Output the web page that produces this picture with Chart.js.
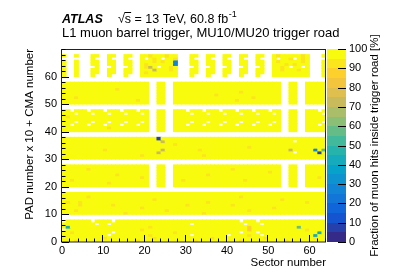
<!DOCTYPE html>
<html lang="en">
<head>
<meta charset="UTF-8">
<title>L1 muon barrel trigger road</title>
<script src="https://cdn.jsdelivr.net/npm/chart.js"></script>
<style>
  html, body { margin: 0; padding: 0; background: #fff; }
</style>
</head>
<body>
<canvas id="roadChart" width="407" height="276"></canvas>
<script>
// x = sector logic number, y = PAD number x 10 + CMA number
const sectorCount = 64;
const xTicks = [0, 10, 20, 30, 40, 50, 60];
const yTicks = [0, 10, 20, 30, 40, 50, 60];
const zTicks = [0, 10, 20, 30, 40, 50, 60, 70, 80, 90, 100];

// fraction (%), one code per sector, '.' = no CMA
const valueCodes = { '9': 98, '8': 93, '7': 88, '6': 83, 'k': 72, 'g': 57, 'c': 42, 'b': 28, 'd': 8 };

// each array: CMA 0 .. 7, sectors in groups of 8
const pad0 = [
  '99989999 99999999 99899999 99999999 89999999 99989999 99999989 99999999',
  '99999999 99899999 99999989 99999999 99998999 99999999 98999999 99999899',
  '99999999 999.9999 99999899 9999999. 99999999 .9999899 .9999999 99999c99',
  '99899999 9999.999 99999999 99989999 99999999 999.999. 99999999 999999c9',
  '.9999999 99999999 99989999 99999999 99999999 99999799 99999999 99989999',
  '9c999999 99999999 99999899 99999999 99999999 99999799 99999999 9g999999',
  '99999999 .99.9999 99999999 9999999. 99999999 9999.999 .9999999 99999999',
  '.999999. 9999.999 99999999 99999999 99999999 999.999. 99999999 99999999'
];
const pad1 = [
  '99999999 99999998 99999999 99999999 99899999 99999999 99999999 99999999',
  '99989999 99999999 99999999 98999999 99999999 99999899 99999999 99999999',
  '99999999 99999999 99989999 99999999 99999999 99999999 99989999 99999999',
  '99998999 99998999 99999999 99999989 99999999 98999999 99999999 99999999',
  '98998999 99999999 99999999 99999999 99989999 99999999 99999999 99989999',
  '99999999 99999999 99999989 99999999 99999999 99999999 99999899 99999999',
  '99999989 99999999 99999999 99999999 99999999 99989999 99999999 99999999',
  '99999999 99999999 99999999 99999999 99999999 99999999 99999999 99999999'
];
const pad2 = [
  '99999999 99999999 99999..9 9..99999 99999999 99999999 99999..9 9..99999',
  '99999999 99989999 99999..9 9..99999 99999999 99999999 99999..9 9..99999',
  '99899999 99999999 99999..9 9..99899 99999999 99998999 99999..9 9..99999',
  '99999999 99999999 99989..9 9..99999 99999999 99999999 99999..9 9..99989',
  '99999999 99999899 99999..9 9..99999 99989999 99999999 99999..9 9..99999',
  '99999999 99999999 99999..9 9..99999 99999999 99999999 99899..9 9..99999',
  '99999989 99999999 99999..9 9..99999 99999999 98999999 99999..9 9..99999',
  '99999999 99999999 99999..9 9..99999 99999999 99999999 99999..9 9..99999'
];
const pad3 = [
  '99999999 99999999 99999999 99999999 99999999 99999999 99999999 99999999',
  '99999999 99999999 99989999 99999999 99899999 99999999 99999999 99999999',
  '99999999 99999999 9999999k 99999999 99999999 99999999 99999999 .99999d9',
  '99999999 99899999 99999999 k9999999 98999999 99999999 9999999k 99999b9g',
  '99999999 99999999 99999999 99999999 99999999 99999899 99999999 99999999',
  '99999999 99999999 99999999 99989999 99999999 99999999 99999999 99999999',
  '99999999 99999999 99999999 k9999999 99999999 99999999 99999999 .9999999',
  '99999999 99999999 9999999d 99999999 99999999 99999999 99999999 99999999'
];
const pad4 = [
  '99999999 99999999 99999..9 9..99999 99999999 99999999 99999..9 9..99999',
  '99999999 99989999 99999..9 9..99999 99999999 99999999 99999..9 9..99999',
  '99.999.9 99.999.9 99.99..9 9..999.9 99.999.9 99.999.9 99.99..9 9..999.9',
  '999.999. 999.999. 999.9..9 9..9999. 999.999. 999.999. 999.9..9 9..9999.',
  '99999999 99999999 99999..9 9..99999 99999999 99999999 99999..9 9..99999',
  '98999999 99999999 99999..9 9..99999 99999999 99999999 99999..9 9..99999',
  '999.999. 999.999. 999.9..9 9..9999. 999.999. 999.999. 999.9..9 9..9999.',
  '99.999.9 99.999.9 99.99..9 9..999.9 99.999.9 99.999.9 99.99..9 9..999.9'
];
const pad5 = [
  '99999999 99999999 99999..9 9..99999 99999999 99999999 99999..9 9..99999',
  '99999999 99999999 99899..9 9..99999 99999999 99899999 99999..9 9..99999',
  '99989999 99999999 99999..9 9..99999 99999999 99999989 99999..9 9..99999',
  '99999999 99999999 99999..9 9..99999 99999899 99999999 99999..9 9..99999',
  '99999999 99999999 99999..9 9..99999 99999999 99989999 99999..9 9..99999',
  '99999999 99999899 99999..9 9..99999 99999999 99999999 99999..9 9..99999',
  '99999999 99999999 99999..9 9..99999 99999999 99999999 99999..9 9..99999',
  '99999999 99999999 99999..9 9..99999 99999999 99999999 99999..9 9..99999'
];
const pad6 = [
  '9..9...9 ...9...9 ...99999 9999...9 ...9...9 ...9...9 ...99999 9999...9',
  '9..9...9 9..99..9 9..98999 9999...9 9..99..9 9..99..9 9..99999 9999...9',
  '9..9...9 9..99..9 9..999k9 9989...9 9..99..9 9..99..9 9..99899 9899...9',
  '9..9.... 9...9... 9..98k9. 9989.... 9...9... 9...9... 9..9989. 99.9...9',
  '9..9...9 9..99..9 9..98999 999b...9 9..99..9 9..99..9 9..99989 8999...9',
  '9..9...9 9..99..9 9..99989 899b...9 9..99..9 9..99..9 9..98999 9989...9',
  '.......9 ...9...9 ...9.989 .998...9 ...9...9 ...9...9 ...9.998 .989....',
  '9..9...9 9..99..9 9..99899 9899...9 9..99..9 9..99..9 9..98999 9989...9'
];
const pads = [pad0, pad1, pad2, pad3, pad4, pad5, pad6];

// ROOT "bird" palette, 20 contours
const birdStops = [0.0, 0.125, 0.25, 0.375, 0.5, 0.625, 0.75, 0.875, 1.0];
const birdR = [0.2082, 0.0592, 0.0780, 0.0232, 0.1802, 0.5301, 0.8186, 0.9956, 0.9764];
const birdG = [0.1664, 0.3599, 0.5041, 0.6419, 0.7178, 0.7492, 0.7328, 0.7862, 0.9832];
const birdB = [0.5293, 0.8684, 0.8385, 0.7914, 0.6425, 0.4662, 0.3499, 0.1968, 0.0539];
const nContours = 20;

function birdColor(t) {
  let i = 0;
  while (i < birdStops.length - 2 && t > birdStops[i + 1]) i++;
  const f = (t - birdStops[i]) / (birdStops[i + 1] - birdStops[i]);
  const mix = arr => Math.round(255 * (arr[i] + f * (arr[i + 1] - arr[i])));
  return `rgb(${mix(birdR)}, ${mix(birdG)}, ${mix(birdB)})`;
}
function cellColor(v) {
  const bin = Math.min(nContours - 1, Math.floor(v / (100 / nContours)));
  return birdColor(bin / (nContours - 1));
}

const cells = [];
pads.forEach((pad, p) => {
  pad.forEach((line, cma) => {
    const codes = line.replace(/ /g, '');
    for (let s = 0; s < sectorCount; s++) {
      if (codes[s] === '.') continue;
      const row = p * 10 + cma;
      cells.push({ x: s + 0.5, y: [row, row + 1], v: valueCodes[codes[s]] });
    }
  });
});

const fontFamily = '"Liberation Sans", Arial, Helvetica, sans-serif';

// frame, inward ticks, colour bar and header text, ROOT style
const atlasDecor = {
  id: 'atlasDecor',
  afterDraw(chart) {
    const { ctx, chartArea: a, scales } = chart;
    const xs = scales.x, ys = scales.y, zs = scales.z;
    ctx.save();

    // colour bar
    const cbLeft = a.right + 1, cbRight = a.right + 20;
    for (let i = 0; i < nContours; i++) {
      const y1 = zs.getPixelForValue((i + 1) * 100 / nContours);
      const y2 = zs.getPixelForValue(i * 100 / nContours);
      ctx.fillStyle = birdColor(i / (nContours - 1));
      ctx.fillRect(cbLeft, Math.round(y1), cbRight - cbLeft, Math.round(y2) - Math.round(y1));
    }
    ctx.strokeStyle = '#000';
    ctx.lineWidth = 1;
    ctx.beginPath();
    zTicks.forEach(v => {
      const py = Math.round(zs.getPixelForValue(v)) + 0.5;
      ctx.moveTo(cbRight, py);
      ctx.lineTo(cbRight - 8, py);
    });
    ctx.stroke();

    // frame
    ctx.strokeStyle = '#222';
    ctx.strokeRect(a.left - 0.5, a.top + 0.5, a.width, a.height - 0.5);

    // ticks
    ctx.strokeStyle = '#000';
    ctx.beginPath();
    for (let v = 0; v <= 64; v += 2) {
      const px = Math.round(xs.getPixelForValue(v)) - 0.5;
      const len = xTicks.includes(v) ? 7 : 3.5;
      ctx.moveTo(px, a.bottom);
      ctx.lineTo(px, a.bottom - len);
    }
    for (let v = 0; v <= 70; v += 2) {
      const py = Math.round(ys.getPixelForValue(v)) + 0.5;
      const len = yTicks.includes(v) ? 7 : 3.5;
      ctx.moveTo(a.left, py);
      ctx.lineTo(a.left + len, py);
    }
    ctx.stroke();

    // header
    ctx.fillStyle = '#000';
    ctx.textBaseline = 'alphabetic';
    ctx.textAlign = 'left';
    ctx.font = 'italic bold 12.5px ' + fontFamily;
    ctx.fillText('ATLAS', 62, 22.5);
    ctx.font = '12.5px ' + fontFamily;
    ctx.fillText('\u221As = 13 TeV, 60.8 fb', 118, 22.5);
    const w1 = ctx.measureText('\u221As = 13 TeV, 60.8 fb').width;
    const wr = ctx.measureText('\u221A').width;
    const ws = ctx.measureText('s').width;
    ctx.beginPath();
    ctx.moveTo(118 + wr - 0.5, 12.5);
    ctx.lineTo(118 + wr + ws, 12.5);
    ctx.stroke();
    ctx.font = '9px ' + fontFamily;
    ctx.fillText('-1', 118 + w1 + 0.5, 17);
    ctx.font = '13px ' + fontFamily;
    ctx.fillText('L1 muon barrel trigger, MU10/MU20 trigger road', 62, 36.5);

    // colour bar title
    ctx.translate(375, (a.top + a.bottom) / 2);
    ctx.rotate(-Math.PI / 2);
    ctx.textAlign = 'center';
    ctx.textBaseline = 'middle';
    ctx.font = '11.5px ' + fontFamily;
    ctx.fillText('Fraction of muon hits inside trigger road [%]', 0, 0);
    ctx.restore();
  }
};

new Chart(document.getElementById('roadChart'), {
  type: 'bar',
  data: {
    datasets: [{
      data: cells,
      backgroundColor: c => cellColor(c.raw.v),
      borderWidth: 0,
      barPercentage: 1,
      categoryPercentage: 1,
      inflateAmount: 0.4
    }]
  },
  options: {
    responsive: false,
    animation: false,
    events: [],
    layout: { padding: { top: 49, left: 0, right: 0, bottom: 0 } },
    plugins: { legend: { display: false }, tooltip: { enabled: false } },
    scales: {
      x: {
        type: 'linear', min: 0, max: 64, offset: false,
        grid: { display: false, drawTicks: false }, border: { display: false },
        ticks: { stepSize: 10, includeBounds: false, maxRotation: 0, padding: 2, color: '#000', font: { family: fontFamily, size: 11 } },
        title: { display: true, text: 'Sector number', align: 'end', color: '#000', font: { family: fontFamily, size: 11.5 }, padding: { top: 0, bottom: 6 } },
        afterFit: s => { s.height = 34; }
      },
      y: {
        type: 'linear', min: 0, max: 70,
        grid: { display: false, drawTicks: false }, border: { display: false },
        ticks: { stepSize: 10, padding: 5, color: '#000', font: { family: fontFamily, size: 11 } },
        afterBuildTicks: s => { s.ticks = yTicks.map(v => ({ value: v })); },
        title: { display: true, text: 'PAD number x 10 + CMA number', align: 'end', color: '#000', font: { family: fontFamily, size: 11.5 }, padding: { top: 23, bottom: 0 } },
        afterFit: s => { s.width = 62; }
      },
      z: {
        type: 'linear', position: 'right', min: 0, max: 100,
        grid: { display: false, drawTicks: false }, border: { display: false },
        ticks: { stepSize: 10, padding: 23, color: '#000', font: { family: fontFamily, size: 11 } },
        afterBuildTicks: s => { s.ticks = zTicks.map(v => ({ value: v })); },
        afterFit: s => { s.width = 81; }
      }
    }
  },
  plugins: [atlasDecor]
});
</script>
</body>
</html>
